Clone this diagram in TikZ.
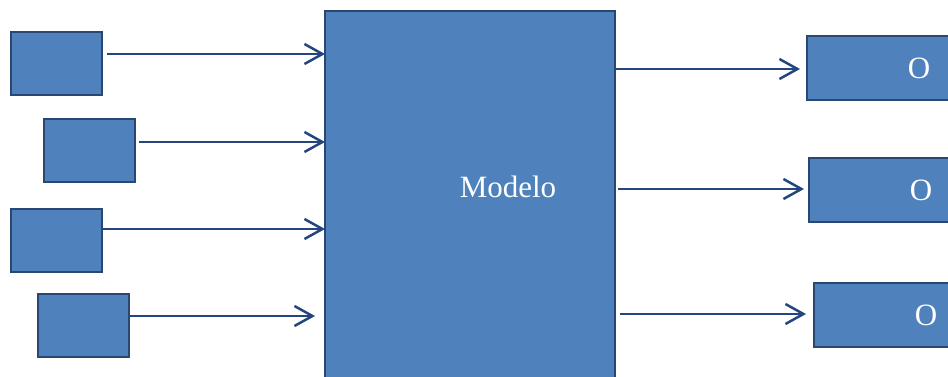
\documentclass[tikz,border=0pt]{standalone}
\usepackage{fontspec}
\setmainfont{Liberation Serif}
\usetikzlibrary{arrows.meta}
\definecolor{boxfill}{RGB}{79,129,189}
\definecolor{boxline}{RGB}{40,72,115}
\definecolor{arrowc}{RGB}{36,70,126}
\begin{document}
\begin{tikzpicture}[x=1pt,y=-1pt,
  blk/.style={draw=boxline,fill=boxfill,line width=2.5pt,inner sep=0pt,outer sep=0pt},
  inbox/.style={blk,minimum width=91pt,minimum height=63pt},
  outbox/.style={blk,minimum width=224pt,minimum height=64pt,text=white,font=\fontsize{31}{31}\selectfont},
  conn/.style={draw=arrowc,line width=2.5pt,-{Straight Barb[length=18pt,width=20pt,line width=2.5pt]}}]
\useasboundingbox (0,0) rectangle (948,377);
% main block
\node[blk,minimum width=290pt,minimum height=380pt,anchor=north west] (main) at (325,11) {};
\node[text=white,font=\fontsize{31}{31}\selectfont,anchor=base] (lbl) at (508,197) {Modelo};
% input boxes
\node[inbox,anchor=north west] (b1) at (11,32) {};
\node[inbox,anchor=north west] (b2) at (44,119) {};
\node[inbox,anchor=north west] (b3) at (11,209) {};
\node[inbox,anchor=north west] (b4) at (38,294) {};
% output boxes
\node[outbox,anchor=west] (o1) at (807,68) {O};
\node[outbox,anchor=west] (o2) at (809,190) {O};
\node[outbox,anchor=west] (o3) at (814,315) {O};
% input arrows
\coordinate (s1) at (107,54);
\coordinate (s2) at (139,142);
\coordinate (s3) at (b3.east |- 0,229);
\coordinate (s4) at (b4.east |- 0,316);
\draw[conn] (s1) -- (s1 -| main.west);
\draw[conn] (s2) -- (s2 -| main.west);
\draw[conn] (s3) -- (s3 -| main.west);
\coordinate (e4) at (315,316);
\draw[conn] (s4) -- (e4);
% output arrows
\coordinate (t1) at (main.east |- 0,69);
\coordinate (t2) at (618,189);
\coordinate (t3) at (620,314);
\draw[conn] (t1) -- ([xshift=-7pt]t1 -| o1.west);
\draw[conn] (t2) -- ([xshift=-5pt]t2 -| o2.west);
\draw[conn] (t3) -- ([xshift=-8pt]t3 -| o3.west);
\end{tikzpicture}
\end{document}
